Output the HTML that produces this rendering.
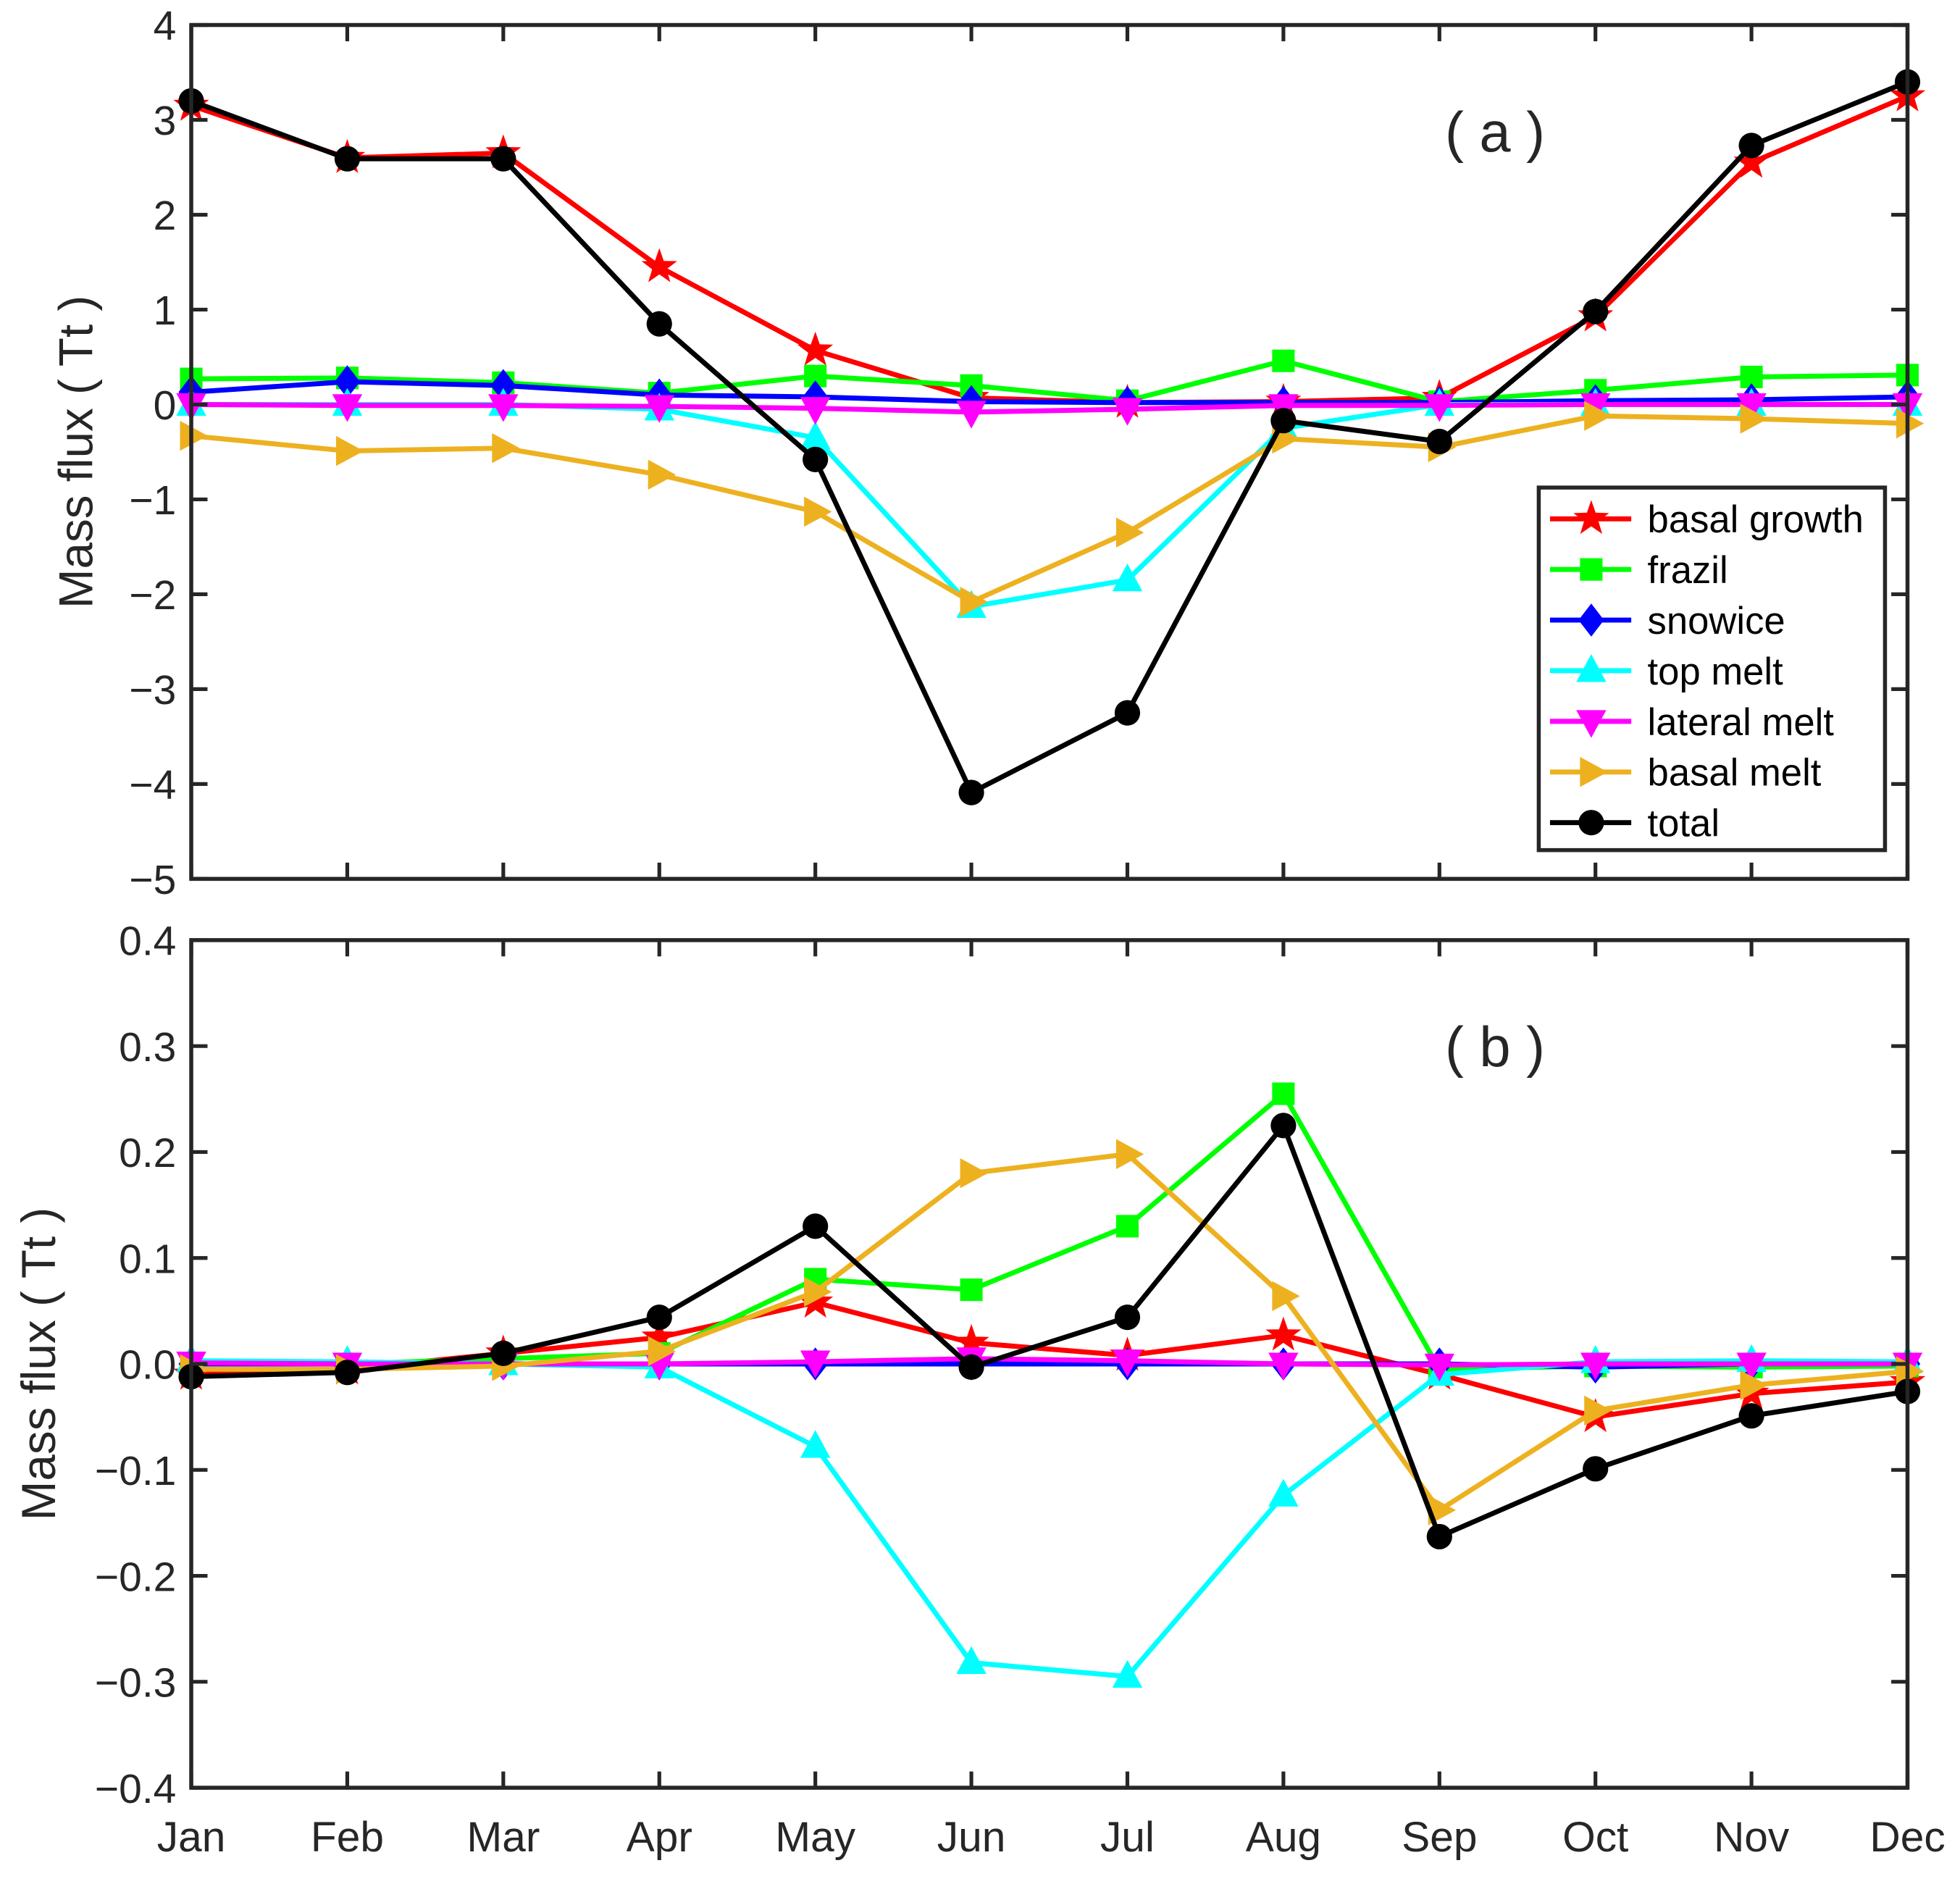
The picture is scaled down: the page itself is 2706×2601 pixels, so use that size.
<!DOCTYPE html>
<html><head><meta charset="utf-8"><style>
html,body{margin:0;padding:0;background:#fff;}
svg{display:block;}
text{font-family:"Liberation Sans",Arial,sans-serif;fill:#262626;}
</style></head>
<body>
<svg id="chart" width="2706" height="2601" viewBox="0 0 1568 1507" preserveAspectRatio="none" xmlns="http://www.w3.org/2000/svg"></svg>
<script>
const months = ["Jan","Feb","Mar","Apr","May","Jun","Jul","Aug","Sep","Oct","Nov","Dec"];
const seriesNames = ["basal growth","frazil","snowice","top melt","lateral melt","basal melt","total"];
const aBasalGrowth = [3.15,2.6,2.65,1.45,0.57,0.07,0.02,0.03,0.07,0.93,2.55,3.25];
const aFrazil = [0.27,0.28,0.23,0.12,0.3,0.2,0.04,0.46,0.03,0.15,0.29,0.31];
const aSnowice = [0.13,0.24,0.2,0.1,0.08,0.03,0.02,0.02,0.02,0.04,0.05,0.08];
const aTopMelt = [0.0,0.0,0.0,-0.05,-0.35,-2.13,-1.85,-0.25,0.0,0.0,0.0,0.0];
const aLateralMelt = [0,-0.01,-0.01,-0.02,-0.04,-0.08,-0.05,-0.01,-0.01,0,0,0];
const aBasalMelt = [-0.33,-0.49,-0.46,-0.74,-1.13,-2.08,-1.35,-0.36,-0.45,-0.12,-0.15,-0.2];
const aTotal = [3.2,2.59,2.59,0.85,-0.58,-4.09,-3.25,-0.17,-0.39,0.98,2.73,3.4];
const bBasalGrowth = [-0.01,-0.005,0.01,0.025,0.058,0.02,0.008,0.027,-0.01,-0.05,-0.028,-0.017];
const bFrazil = [0,0,0.005,0.01,0.08,0.07,0.13,0.255,-0.005,-0.002,-0.003,-0.002];
const bSnowice = [0,0,0,0,0,0,0,0,0,-0.003,0,0];
const bTopMelt = [0.003,0.002,0,-0.003,-0.078,-0.282,-0.295,-0.124,-0.01,0.002,0.003,0.002];
const bLateralMelt = [0.001,0,0,0,0.002,0.005,0.003,0,-0.001,0,0,0];
const bBasalMelt = [-0.005,-0.005,-0.002,0.012,0.068,0.18,0.198,0.064,-0.138,-0.044,-0.02,-0.007];
const bTotal = [-0.012,-0.008,0.01,0.044,0.13,-0.003,0.044,0.225,-0.163,-0.099,-0.049,-0.026];
const aTicks = [4,3,2,1,0,-1,-2,-3,-4,-5];
const bTicks = [0.4,0.3,0.2,0.1,0,-0.1,-0.2,-0.3,-0.4];

const NS="http://www.w3.org/2000/svg";
const svg=document.getElementById('chart');
function el(tag,attrs,parent){const e=document.createElementNS(NS,tag);for(const k in attrs)e.setAttribute(k,attrs[k]);(parent||svg).appendChild(e);return e;}
const colors=["#ff0000","#00ff00","#0000ff","#00ffff","#ff00ff","#edb120","#000000"];
const markers=["star","square","diamond","up","down","right","circle"];
const X0=153,X1=1526;
function xs(i){return X0+(X1-X0)*i/11;}

function marker(type,x,y,c,g,s){
  s=s||12;let m;
  if(type==="circle") m=el('circle',{cx:x,cy:y,r:s*0.85,fill:c},g);
  else if(type==="square") m=el('rect',{x:x-s*0.75,y:y-s*0.75,width:s*1.5,height:s*1.5,fill:c},g);
  else if(type==="diamond") m=el('polygon',{points:`${x},${y-s*1.1} ${x+s*0.85},${y} ${x},${y+s*1.1} ${x-s*0.85},${y}`,fill:c},g);
  else if(type==="up") m=el('polygon',{points:`${x},${y-s*1.1} ${x+s},${y+s*0.75} ${x-s},${y+s*0.75}`,fill:c},g);
  else if(type==="down") m=el('polygon',{points:`${x},${y+s*1.1} ${x+s},${y-s*0.75} ${x-s},${y-s*0.75}`,fill:c},g);
  else if(type==="right") m=el('polygon',{points:`${x+s*1.1},${y} ${x-s*0.75},${y+s} ${x-s*0.75},${y-s}`,fill:c},g);
  else { let p=[];for(let k=0;k<10;k++){const r=k%2?s*0.5:s*1.25;const a=-Math.PI/2+k*Math.PI/5;p.push((x+r*Math.cos(a)).toFixed(1)+','+(y+r*Math.sin(a)).toFixed(1));}
    m=el('polygon',{points:p.join(' '),fill:c},g);}
  return m;
}

function panel(id,top,bot,ymax,ymin,ticks,data,label,labelX,ylabX,decimals){
  const ys=v=>top+(ymax-v)/(ymax-ymin)*(bot-top);
  const g=el('g',{});
  
  
  data.forEach((arr,si)=>{
    const sg=el('g',{},g);
    
    
    el('polyline',{points:arr.map((v,i)=>xs(i)+','+ys(v)).join(' '),fill:'none',stroke:colors[si],'stroke-width':4,'stroke-linejoin':'round'},sg);
    arr.forEach((v,i)=>{const m=marker(markers[si],xs(i),ys(v),colors[si],sg);
      
      });
  });
  const ax=el('g',{},g);
  
  
  el('rect',{x:X0,y:top,width:X1-X0,height:bot-top,fill:'none',stroke:'#262626','stroke-width':3.2},ax);
  ticks.forEach(t=>{const y=ys(t);
    el('line',{x1:X0,y1:y,x2:X0+13,y2:y,stroke:'#262626','stroke-width':3},ax);
    el('line',{x1:X1,y1:y,x2:X1-13,y2:y,stroke:'#262626','stroke-width':3},ax);
    const s=(t<0?'\u2212':'')+Math.abs(t).toFixed(decimals);
    const tx=el('text',{x:X0-12,y:y+12,'text-anchor':'end','font-size':33},ax);tx.textContent=s;
    
    
  });
  months.forEach((m,i)=>{const x=xs(i);
    el('line',{x1:x,y1:top,x2:x,y2:top+13,stroke:'#262626','stroke-width':3},ax);
    el('line',{x1:x,y1:bot,x2:x,y2:bot-13,stroke:'#262626','stroke-width':3},ax);
  });
  const yl=el('text',{x:0,y:0,'text-anchor':'middle','font-size':38,transform:`translate(${ylabX},${(top+bot)/2}) rotate(-90)`},g);
  yl.textContent='Mass flux ( Tt )';
  
  
  const pl=el('text',{x:labelX,y:top+101,'text-anchor':'middle','font-size':45},g);
  pl.textContent=label;
  
  
}

panel('panel-a',20,703,4,-5,aTicks,[aBasalGrowth,aFrazil,aSnowice,aTopMelt,aLateralMelt,aBasalMelt,aTotal],'( a )',1196,74,0);
panel('panel-b',752,1430,0.4,-0.4,bTicks,[bBasalGrowth,bFrazil,bSnowice,bTopMelt,bLateralMelt,bBasalMelt,bTotal],'( b )',1196,44,1);

months.forEach((m,i)=>{const t=el('text',{x:xs(i),y:1481,'text-anchor':'middle','font-size':34});
  t.textContent=m;
  
  });

const lg=el('g',{});


el('rect',{x:1231,y:390,width:277,height:290,fill:'#fff',stroke:'#262626','stroke-width':3.2},lg);
seriesNames.forEach((n,i)=>{const y=415+i*40.5;
  const eg=el('g',{},lg);
  
  
  el('line',{x1:1240,y1:y,x2:1305,y2:y,stroke:colors[i],'stroke-width':4},eg);
  marker(markers[i],1273,y,colors[i],eg);
  const t=el('text',{x:1318,y:y+11,'font-size':30.5,fill:'#000'},eg);t.textContent=n;t.style.fill='#000';
});
</script>
</body></html>
